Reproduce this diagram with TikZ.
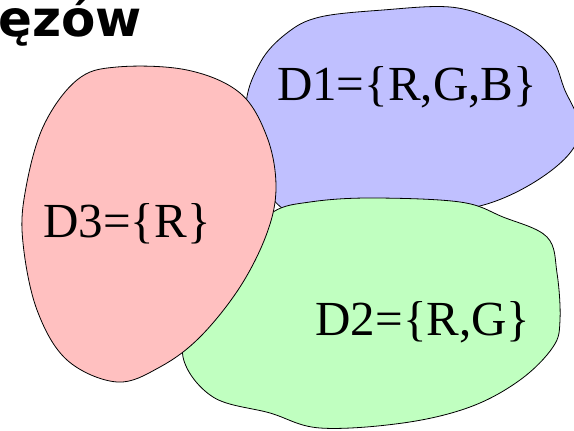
\documentclass[tikz,border=0pt]{standalone}
\usepackage{fontspec}
\setmainfont{Liberation Serif}
\newfontfamily\titlefont{DejaVu Sans}
\usetikzlibrary{positioning}

\definecolor{setblue}{RGB}{192,192,255}
\definecolor{setgreen}{RGB}{192,255,192}
\definecolor{setred}{RGB}{255,192,192}

\begin{document}
\begin{tikzpicture}[
    x=1pt, y=-1pt,
    region/.style={draw=black, line width=0.8pt},
    setname/.style={anchor=base, inner sep=0pt, font=\fontsize{49}{58}\selectfont}
  ]
  \useasboundingbox (0,0) rectangle (574,431);
  \clip (0,0) rectangle (574,431);

  % end of the title line
  \node[anchor=base west, inner sep=0pt, font=\titlefont\bfseries\fontsize{50}{60}\selectfont]
    (title) at (-2,37) {ęzów};

  % domains: blue under green under red
  \filldraw[region, fill=setblue] plot[smooth cycle, tension=0.6] coordinates {
    (320,17) (383,10) (450,7) (497,20) (530,37) (553,60) (564,88)
    (580,132) (552,170) (487,204) (400,216) (300,216) (262,180)
    (246,110) (260,63) (287,33)};
  \filldraw[region, fill=setgreen] plot[smooth cycle, tension=0.6] coordinates {
    (273,212) (310,202) (370,198) (460,202) (503,217) (547,237)
    (557,273) (560,320) (553,347) (520,380) (470,407) (403,423)
    (320,428) (270,413) (213,397) (183,357) (195,310) (240,245)};
  \filldraw[region, fill=setred] plot[smooth cycle, tension=0.6] coordinates {
    (117,67) (187,70) (240,93) (267,137) (276,187) (267,233)
    (240,287) (200,337) (160,367) (117,382) (67,360) (37,310)
    (23,243) (25,193) (43,127) (77,80)};

  \node[setname] (d1) at (407,100) {D1=\{R,G,B\}};
  \node[setname] (d2) at (423,335) {D2=\{R,G\}};
  \node[setname] (d3) at (127,237) {D3=\{R\}};
\end{tikzpicture}
\end{document}
